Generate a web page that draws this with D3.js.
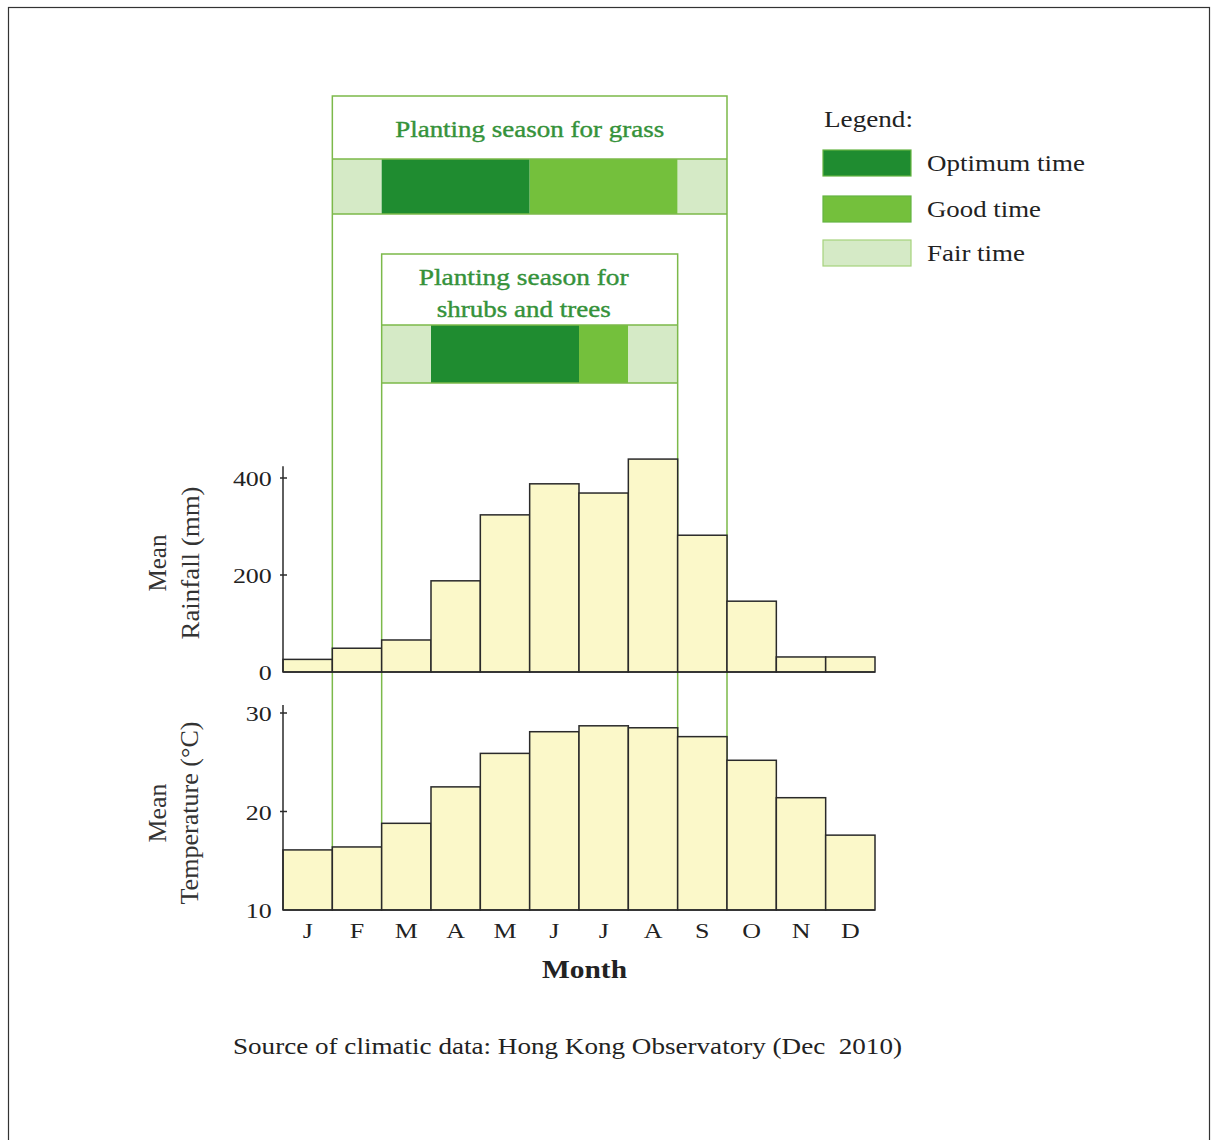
<!DOCTYPE html>
<html><head><meta charset="utf-8">
<script src="https://cdn.jsdelivr.net/npm/d3@7"></script>
<style>body{margin:0;background:#fff}svg{display:block}text{font-family:"Liberation Serif","Times New Roman",serif}</style>
</head><body><div id="chart"></div>
<script>
const monthIds = ["Jan","Feb","Mar","Apr","May","Jun","Jul","Aug","Sep","Oct","Nov","Dec"];
const monthLabels = ["J","F","M","A","M","J","J","A","S","O","N","D"];
const rainfall = [26, 49, 66, 188, 324, 388, 369, 439, 282, 146, 31, 31];
const temperature = [16.1, 16.4, 18.8, 22.5, 25.9, 28.1, 28.7, 28.5, 27.6, 25.2, 21.4, 17.6];
const rainTicks = [0, 200, 400];
const tempTicks = [10, 20, 30];
const grassSeason = [null,"Fair","Optimum","Optimum","Optimum","Good","Good","Good","Fair",null,null,null];
const shrubSeason = [null,null,"Fair","Optimum","Optimum","Optimum","Good","Fair",null,null,null,null];
const legendItems = ["Optimum","Good","Fair"];
const legendLabels = ["Optimum time","Good time","Fair time"];

const W = 1212, H = 1140;
const colors = {Optimum:"#1f8c30", Good:"#74c03c", Fair:"#d5eac6"};
const boxStroke = "#7cb94a";
const titleColor = "#35923a";
const barFill = "#fbf8c9";
const SX = 1.18;

const svg = d3.select("#chart").append("svg").attr("width", W).attr("height", H);
svg.append("rect").attr("x",8.5).attr("y",7.5).attr("width",1201).attr("height",1160)
  .attr("fill","#fff").attr("stroke","#333").attr("stroke-width",1.2);

const x = d3.scaleBand().domain(monthIds).range([283, 875]).padding(0);
const bw = x.bandwidth();
const yR = d3.scaleLinear().domain([0, 400]).range([672, 478]);
const yT = d3.scaleLinear().domain([10, 30]).range([910, 713]);

function fitText(sel, len) {
  return sel.attr("textLength", len).attr("lengthAdjust", "spacingAndGlyphs");
}

// Season boxes
function seasonBox(season, top, stripTop, stripBot, titleLines, titleYs, titleLens) {
  const idx = season.map((s,i)=>s?i:-1).filter(i=>i>=0);
  const x0 = x(monthIds[idx[0]]), x1 = x(monthIds[idx[idx.length-1]]) + bw;
  const g = svg.append("g");
  // merge consecutive months into runs
  const runs = [];
  season.forEach((s,i)=>{
    if (!s) return;
    const last = runs[runs.length-1];
    if (last && last.s === s && last.end === i-1) last.end = i;
    else runs.push({s, start:i, end:i});
  });
  g.selectAll("rect.cell").data(runs).join("rect")
    .attr("x", d=>x(monthIds[d.start])).attr("y", stripTop)
    .attr("width", d=>x(monthIds[d.end]) + bw - x(monthIds[d.start])).attr("height", stripBot-stripTop)
    .attr("fill", d=>colors[d.s]);
  g.append("path").attr("fill","none").attr("stroke",boxStroke).attr("stroke-width",1.5)
    .attr("d", `M${x0},${yT(10)}V${top}H${x1}V${yT(10)}M${x0},${stripTop}H${x1}M${x0},${stripBot}H${x1}`);
  titleLines.forEach((t,k)=>{
    fitText(g.append("text").attr("x",(x0+x1)/2 - (titleLines.length>1?6:0)).attr("y",titleYs[k])
      .attr("text-anchor","middle").attr("fill",titleColor).attr("font-size",24)
      .attr("stroke",titleColor).attr("stroke-width",0.4).text(t), titleLens[k]);
  });
}
seasonBox(grassSeason, 96, 159, 214, ["Planting season for grass"], [137], [269]);
seasonBox(shrubSeason, 254, 325, 383, ["Planting season for","shrubs and trees"], [285, 317], [210, 174]);

// Rainfall bars
svg.append("g").selectAll("rect").data(rainfall).join("rect")
  .attr("x",(d,i)=>x(monthIds[i])).attr("y",d=>yR(d))
  .attr("width",bw).attr("height",d=>yR(0)-yR(d))
  .attr("fill",barFill).attr("stroke","#2a2a2a").attr("stroke-width",1.5);
// Temperature bars
svg.append("g").selectAll("rect").data(temperature).join("rect")
  .attr("x",(d,i)=>x(monthIds[i])).attr("y",d=>yT(d))
  .attr("width",bw).attr("height",d=>yT(10)-yT(d))
  .attr("fill",barFill).attr("stroke","#2a2a2a").attr("stroke-width",1.5);

// Axes
function yAxis(scale, ticks, topVal) {
  const g = svg.append("g").attr("transform","translate(283,0)");
  g.append("line").attr("x1",0).attr("x2",0).attr("y1",scale(scale.domain()[0])).attr("y2",scale(topVal))
    .attr("stroke","#2a2a2a").attr("stroke-width",1.5);
  const ax = d3.axisLeft(scale).tickValues(ticks).tickSize(0).tickPadding(9.5);
  const a = svg.append("g").attr("transform","translate(283,0)").call(ax);
  a.select(".domain").remove();
  a.selectAll("text").attr("font-size",22).attr("fill","#222").attr("font-family","Liberation Serif, serif")
    .attr("dy","0.36em").attr("transform",`scale(${SX},1)`);
  g.selectAll("line.t").data(ticks.slice(1)).join("line").attr("class","t")
    .attr("x1",-3).attr("x2",4).attr("y1",d=>scale(d)).attr("y2",d=>scale(d))
    .attr("stroke","#2a2a2a").attr("stroke-width",1.5);
}
yAxis(yR, rainTicks, 424);
yAxis(yT, tempTicks, 30.8);
svg.append("line").attr("x1",283).attr("x2",875).attr("y1",yR(0)).attr("y2",yR(0)).attr("stroke","#2a2a2a").attr("stroke-width",1.5);
svg.append("line").attr("x1",283).attr("x2",875).attr("y1",yT(10)).attr("y2",yT(10)).attr("stroke","#2a2a2a").attr("stroke-width",1.5);

// Month axis
const xa = svg.append("g").attr("transform",`translate(0,${yT(10)})`)
  .call(d3.axisBottom(x).tickSize(0).tickPadding(12).tickFormat((d,i)=>monthLabels[i]));
xa.select(".domain").remove();
xa.selectAll("text").attr("font-size",22).attr("fill","#222").attr("font-family","Liberation Serif, serif")
  .attr("transform",`scale(${SX},1)`);
fitText(svg.append("text").attr("x",584.5).attr("y",978).attr("text-anchor","middle")
  .attr("font-size",25).attr("font-weight","bold").attr("fill","#222").text("Month"), 85);

// Y titles
function yTitle(lines, bx, cy, lens) {
  lines.forEach((t,k)=>{
    fitText(svg.append("text").attr("transform",`translate(${bx[k]},${cy}) rotate(-90)`)
      .attr("text-anchor","middle").attr("font-size",26).attr("fill","#333").text(t), lens[k]);
  });
}
yTitle(["Mean","Rainfall (mm)"], [166, 199], 563, [57, 153]);
yTitle(["Mean","Temperature (°C)"], [166, 198], 813, [59, 183]);

// Legend
fitText(svg.append("text").attr("x",824).attr("y",127).attr("font-size",23).attr("fill","#222").text("Legend:"), 89);
const legendLens = [158, 114, 98];
const lg = svg.append("g").selectAll("g").data(legendItems).join("g")
  .attr("transform",(d,i)=>`translate(823,${[150,196,240][i]})`);
lg.append("rect").attr("width",88).attr("height",26).attr("fill",d=>colors[d])
  .attr("stroke",d=>d==="Fair"?"#a6d27c":"#64b441").attr("stroke-width",1.2);
lg.append("text").attr("x",104).attr("y",21).attr("font-size",23).attr("fill","#222")
  .attr("textLength",(d,i)=>legendLens[i]).attr("lengthAdjust","spacingAndGlyphs")
  .text((d,i)=>legendLabels[i]);

// Source
fitText(svg.append("text").attr("x",233).attr("y",1054).attr("font-size",23).attr("fill","#222")
  .style("white-space","pre")
  .text("Source of climatic data: Hong Kong Observatory (Dec  2010)"), 669);
</script></body></html>
